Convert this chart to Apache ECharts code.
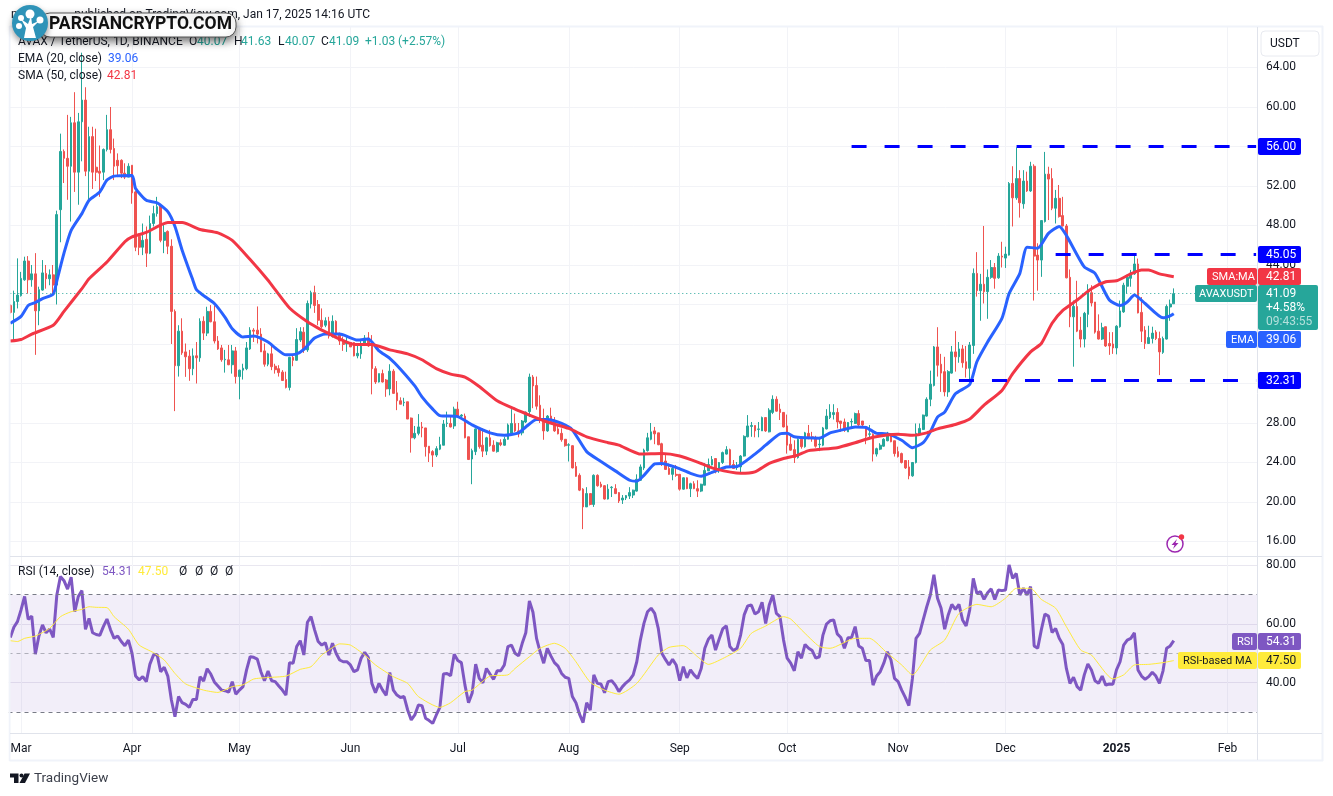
<!DOCTYPE html>
<html>
<head>
<meta charset="utf-8">
<title>AVAX / TetherUS</title>
<style>
html, body { margin: 0; padding: 0; background: #fff; }
#main { width: 1333px; height: 796px; }
</style>
<script src="https://cdn.jsdelivr.net/npm/echarts@6/dist/echarts.min.js"></script>
</head>
<body>
<div id="main"></div>
<script>
// one row per day from 2024-02-27: open, close, low, high
var candles = [
[39.9,39.2,39.1,40],[39.2,40.3,36.4,41.4],[40.3,40.95,39.6,44.67],[40.9,42.64,40.8,43.3],[42.5,44.4,42.4,44.84],
[44.4,42.5,41.1,44.9],[42.5,43.1,41.8,44],[43.1,39.36,34.9,45.2],[39.36,41.5,37.9,41.8],[41.46,43.2,41.4,44.5],
[43.15,42.6,41.6,44],[42.6,43,41.95,43.55],[43,41.97,41.1,44],[41.97,49.1,40,49.5],[49.6,55.5,46.3,57.3],
[55.5,54.8,52.3,55.7],[54.8,54,50.6,59.2],[54,58.4,48.4,59],[58.4,53.4,51.4,61.5],[53.4,58.5,50.1,59.4],
[58.5,60.7,54.5,65.5],[60.7,53.5,53,62],[53.5,57,50.6,58],[57,53.4,51.7,58],[53.9,53.4,52.5,57.8],
[53.5,53.3,50.9,56.1],[53.4,55.7,52.6,55.8],[55.7,57.7,55.5,59.2],[57.7,55.7,55.3,60],[55.8,54,52.6,56.8],
[54.6,54.05,52.9,55.3],[54.6,53.3,52.8,54.7],[53.3,52.9,52.7,54.3],[52.9,54,52.9,54.3],[54.1,51.3,50.2,54.1],
[51.4,45.8,45.4,51.5],[46.9,45.8,45,47.2],[45.8,46.5,45,48.2],[46.6,45.2,43.8,47.9],[45.2,48.2,45.1,49],
[48.2,49.2,47.9,50],[49.2,49.9,48.9,50.9],[50,46.5,46.3,50.1],[46.5,47.3,45.2,48.2],[47.4,45.9,45.1,47.5],
[45.9,39.3,36,46.6],[39.3,33.8,29.2,39.5],[33.8,37.3,32.7,37.9],[37.3,35.1,34.9,38.6],[35.2,34.7,32.67,36.05],
[34.77,33.5,32.27,35.4],[33.5,34.8,32.84,35.55],[34.8,34.6,32,36.2],[34.6,38.3,34.2,38.6],[38.3,37.1,36.4,38.8],
[37.1,39.3,36.8,39.77],[39.3,38.25,38.2,39.94],[38.25,36.3,36.05,39.9],[36.3,35.5,35.4,36.8],[35.6,34.4,34.2,35.9],
[34.4,34.45,33.1,35.4],[34.4,33.9,33.85,35.9],[33.9,35.3,33,35.9],[35.3,32.7,32,35.7],[32.7,33.35,30.4,33.4],
[33.35,33.55,32.4,34],[33.5,35.6,33.35,36.2],[35.5,37.4,35.4,37.7],[37.4,37.3,36.2,37.6],[37.4,37,36.05,39.8],
[37,35.2,35.2,37.6],[35.3,33.95,33.7,36.05],[33.95,35,33.75,35.1],[35,33.7,33.35,36.05],[33.75,33.4,33,34],
[33.5,33.1,32.7,33.85],[33.15,32.3,32.3,33.35],[32.4,31.6,31.5,33.2],[31.6,34.65,31.3,34.7],[34.65,34.35,33.75,34.9],
[34.35,36.45,34.3,37.6],[36.4,37.25,36.2,37.7],[37.2,35.4,35.1,37.7],[35.4,40.1,35.2,40.4],[40.05,41.2,39.6,41.4],
[41.2,39.9,39.15,41.9],[40,38.4,37.9,40.45],[38.4,37.75,37.6,39.6],[37.9,38.35,37.7,38.7],[38.3,36.8,36.55,38.75],
[36.75,38.3,36.65,38.9],[38.3,36.9,36.6,38.4],[37.05,36.3,35.9,37.15],[36.3,35.95,35.3,36.75],[36,36.05,35.2,36.8],
[36.15,35.7,35.7,36.2],[36.15,34.8,34.75,36.2],[34.8,35.05,34.55,36.05],[35,36.05,34.5,36.3],[36.05,36.6,36,36.9],
[36.6,35.8,35.7,37.2],[35.8,33.5,30.9,36.9],[33.5,32.15,31.95,33.75],[32.15,33,32.1,33],[33,32.15,32.1,33.4],
[32.35,31.45,30.65,32.45],[31.45,33.25,30.8,33.95],[33.25,31,30.95,33.45],[31.05,30.25,29.3,32.25],[30.25,29.9,29.9,30.6],
[30.05,30.1,29.7,30.55],[30.15,28.4,28.4,30.15],[28.5,26.5,25,28.55],[26.5,26.95,26.35,27.7],[26.95,27.6,26.75,28.9],
[27.6,27.5,26.55,28.1],[27.5,25.6,24.6,27.5],[25.65,24.95,24.05,25.65],[25.1,24.75,23.55,25.25],[24.75,25.4,24.55,25.65],
[25.35,25.8,25.25,26.6],[25.75,27.9,25.75,28.3],[27.95,28,27.6,29.15],[27.95,27.6,27.55,28.8],[27.7,29.4,27.4,29.65],
[29.4,28.7,28.6,30.15],[28.7,28.8,28.45,28.9],[28.7,26.5,26.45,28.95],[26.6,24.3,24.25,26.6],[24.35,25.2,21.8,25.4],
[25.1,27.4,24.75,27.45],[27.45,25.6,25.4,27.6],[25.75,25.15,24.55,27.45],[25.15,26.5,24.75,26.6],[26.5,25.7,25.6,27.3],
[25.75,25.15,25.1,26.25],[25.1,26,25,26.1],[26,25.8,25.65,26.35],[25.75,26.35,25.7,26.6],[26.35,27.8,26.3,27.95],
[26.9,27.95,26.85,29.4],[27.95,27.2,27.1,28.95],[27.2,26.9,26.55,28],[27,28.2,26.75,28.3],[28.1,29.1,28,29.15],
[29.15,32.65,28.6,33],[32.65,31.75,29.5,32.85],[31.8,29.7,29.35,32.7],[29.8,28.3,28,30.8],[28.35,27.2,26.3,29.45],
[27.2,28.7,27.1,28.8],[28.7,27.95,27.9,29.55],[28.1,27.2,27.1,28.6],[27.4,26.9,26.85,27.95],[26.95,26.3,26.1,27.45],
[26.35,25.7,25.6,26.35],[25.75,25.8,24.1,25.95],[25.7,23.45,23.4,25.75],[23.6,22.6,22.55,24.05],[22.7,21.2,21.1,22.9],
[21.3,19.5,17.25,21.4],[19.5,20.85,19.5,21.5],[20.85,19.75,19.65,20.85],[19.75,22.7,19.5,22.8],[22.7,21.65,21.55,22.8],
[21.8,21.55,21.45,22.05],[21.65,20.3,20.25,21.7],[20.3,21.3,20.25,21.8],[21.45,21.5,20.5,21.6],[21.35,20.85,20.8,21.8],
[20.95,20.1,19.9,21],[20.2,20.4,19.8,20.7],[20.4,20.65,20.2,20.7],[20.6,20.95,20.3,21.5],[20.7,21.2,20.4,21.25],
[21.1,22.3,21.05,22.8],[22.2,23.55,22.15,23.8],[23.45,25.25,23.25,25.4],[25.2,26.5,25.1,27],[26.35,27.1,26.25,28],
[27.2,26.9,25.85,27.6],[27,25.8,25.75,27],[25.9,24.05,23.65,26],[24.15,23.3,23.25,24.75],[23.4,22.8,22.75,23.9],
[22.8,23.4,22.2,23.55],[22.8,22.7,22.55,23.75],[22.8,21.3,21.15,22.8],[21.3,22.45,21.25,22.5],[22.45,21.35,21.3,22.5],
[21.35,21.85,20.5,21.95],[21.85,21.35,21.3,22.1],[21.35,21.1,20.5,22.2],[21.1,21.8,21,21.85],[21.7,23.2,21.7,23.95],
[23.15,23.8,23.15,24.4],[23.75,24.3,23.7,24.65],[24.4,23.05,22.9,24.4],[23.15,24,22.95,24.05],[24,25,23.85,25.1],
[24.85,25.3,24.8,25.65],[25.3,23.75,23.65,25.4],[23.8,23.4,23.35,24.25],[23.5,23.55,23.25,24.05],[23.55,24.65,22.9,24.75],
[24.65,26.65,24.6,26.75],[26.6,27.7,26.55,28.8],[27.65,27.75,26.6,28.1],[27.75,27.2,26.55,27.75],[27.35,27.4,26.55,28.1],
[27.2,28.55,27.2,28.65],[28.55,27.2,27.1,28.55],[27.1,29.3,27.05,29.5],[29.07,30.4,28.9,30.8],[30.4,29.2,29.15,30.7],
[29.4,29.07,28.3,29.95],[29.07,27.6,27.55,29.1],[27.7,25.75,24.9,28.85],[25.85,25.25,25.2,26.75],[25.3,24.5,23.95,26.25],
[24.5,26.35,24.4,26.45],[26.35,25.6,25.4,26.6],[25.6,27,25.5,27.1],[26.95,26.45,26.35,27.8],[26.6,26.45,26.1,27.1],
[26.45,25.65,25.5,26.7],[25.8,25.85,25.15,26.6],[25.75,27.5,25.65,27.6],[27.4,28.7,27.35,29.4],[28.55,29.1,28.4,29.9],
[28.85,29.05,28.35,29.9],[29.07,28.1,27.45,29.5],[28.2,27.95,27.1,28.2],[28.1,27.3,27.1,28.45],[27.1,28.05,27.1,28.1],
[28.1,28.15,27.55,28.45],[27.95,28.95,27.9,29.05],[28.95,27.8,27.7,29.3],[28.2,27.8,27.6,28.2],[27.6,26.65,25.85,27.7],
[26.85,26.9,26.35,27.8],[26.85,24.85,24.1,26.95],[24.85,25.4,24.6,25.5],[25.35,25.75,25.25,25.95],[25.65,26.35,25.6,26.45],
[26.2,26.95,26.15,27.1],[26.9,26.1,26.05,26.95],[26.2,24.9,24.6,26.2],[25.1,24.6,24.5,25.6],[24.9,24,23.9,25],
[24.2,23.45,23.35,24.25],[23.55,22.65,22.3,24.25],[22.65,24,22.55,24.05],[24,26.95,23.9,27.95],[26.9,27.45,26.8,27.95],
[27.35,28.8,27.3,28.85],[28.7,30.4,28.65,30.6],[30.4,31.93,29.7,33.3],[31.8,35.7,31.7,35.8],[35.7,33.85,32.7,37.7],
[33.95,33.05,31.15,35],[33.2,31.15,30.7,34.7],[31.15,33.2,30.65,33.35],[33.05,35.2,33,35.8],[35.2,34.7,33.2,37.3],
[34.7,35.5,34.1,36.2],[35.5,34.1,33.6,35.9],[34.2,33.5,32.6,35.8],[33.55,35.9,32.3,36.2],[35.85,43.15,35,43.65],
[43.15,41.4,40.8,45.3],[41.4,42.05,38.35,43.1],[42.05,41.3,40.1,47.95],[41.3,42.75,38.55,43.55],[42.75,43.75,42.6,44.5],
[43.75,42.65,41.6,44.2],[42.7,44.9,42.6,45.2],[44.9,44.8,43.75,46.35],[44.7,45.1,43.7,45.85],[45,52.25,44.95,52.4],
[52.25,50.8,47.9,54],[50.8,52.75,50.6,55.9],[52.75,50.3,48.8,53.6],[50.2,52.5,49.7,53.6],[52.5,51.5,51.4,53.45],
[51.5,54,51.4,54.45],[54,44.9,40.4,54.2],[45,44.5,41.4,46.2],[44.5,48.5,42.8,48.55],[48.4,53.2,48.3,55.45],
[53.2,52.7,48.55,53.95],[52.75,49.75,49.55,53.8],[49.75,50.75,48.2,51.6],[50.75,48.9,48.8,52.1],[49,47.95,47.9,50.9],
[47.95,42.7,42.65,48.15],[42.75,38.75,37.7,43.55],[38.75,39.8,33.7,40.4],[39.8,37.3,37.2,42.4],[37.4,36.5,35.65,38.75],
[36.5,39.1,35.65,39.25],[39,41.45,37.7,42.05],[41.2,40.15,39.8,41.95],[40.25,37.2,37.05,40.25],[37.3,36.5,36.45,39],
[36.5,37.65,36.4,38.15],[37.75,35.8,35.7,37.75],[36.05,35.8,34.9,37.2],[36,35.6,35,37.2],[35.6,37.8,34.95,37.9],
[37.75,39.35,37.65,40.4],[39.25,41.95,39.15,42.2],[41.85,42.75,41.1,43],[42.65,43.15,41.8,43.5],[43.1,44.1,43,45.15],
[44.1,39.15,39.1,44.65],[39.2,37.3,36.2,40.75],[37.4,36.05,35.5,37.8],[36.05,36.65,36,37.85],[36.55,37.1,36.05,37.75],
[37.2,36.55,36.4,37.4],[36.55,35.2,32.85,37.25],[35.15,36.55,35,36.75],[36.5,39.8,36.45,40],[39.75,40.05,38.35,40.5],
[40.07,41.09,40.07,41.63]
];

// day number (row in candles) and value
var emaDays = [0,3,5,7,9,12,13,15,17,20,22,25,27,29,34,35,38,41,44,46,48,51,52,54,57,60,62,65,68,72,74,77,80,82,85,88,92,97,100,103,106,109,113,115,118,120,125,129,134,138,142,144,147,150,154,157,161,165,169,173,175,177,180,182,186,190,193,196,200,203,208,211,215,217,219,222,226,229,233,236,239,242,245,249,252,255,257,259,261,264,268,270,273,277,279,282,284,287,290,293,295,300,303,307,310,312,314,317,322,324,325];
var emaValues = [38.1,38.8,39.9,40.2,40.6,41.05,42.4,45.2,47.5,49.2,50.55,51.4,52.6,53,53.05,51.75,50.55,50.3,49.4,47.9,45.5,42.46,41.5,40.9,40.1,38.7,37.55,36.7,36.8,36.2,35.6,34.9,35,35.45,36.6,37,37,36.4,36.5,35.3,34.55,33.45,31.75,30.65,29.4,28.75,28.65,27.8,27,26.75,27,27.6,28.35,28.35,27.95,27.3,25.1,24.1,23.15,22.2,22.1,22.7,23.85,23.9,23.5,22.9,22.6,23,23.55,23.6,24.85,25.75,26.9,26.95,26.6,26.5,26.45,27,27.35,27.6,27.55,26.95,26.9,26.25,25.5,26,27.1,28.6,29.1,30.95,31.9,34.2,36.2,38.6,41.1,43.15,45.8,45.7,47.2,47.9,47,43.8,43.15,40.45,39.9,40.25,40.95,40.1,38.65,38.85,39.06];
var smaDays = [0,3,6,12,15,20,22,27,32,34,38,44,48,53,58,62,67,72,74,78,83,87,89,92,96,101,106,111,115,119,123,127,131,136,141,145,150,156,161,167,170,173,176,182,187,193,197,204,208,212,216,220,223,231,236,241,248,252,256,259,264,268,272,277,280,285,288,291,294,298,302,306,309,313,316,318,321,325];
var smaValues = [36.3,36.45,37,37.9,39.3,41.6,42.6,44.3,46.35,46.85,47.3,48.3,48.3,47.6,47.25,46.5,44.55,42.46,41.5,39.65,38.25,37.4,37.05,36.5,35.95,35.95,35.4,35,34.4,33.5,32.95,32.65,31.7,30.25,29.4,28.8,28.1,27.45,26.6,26,25.75,25.25,24.85,24.9,24.65,23.9,23.35,22.9,23.05,23.9,24.4,24.75,25.2,25.5,26,26.55,26.85,26.75,27,27.4,27.85,28.4,29.8,31.3,33,35.2,36.05,38.1,39.4,40.45,41.6,42.3,42.4,43.1,43.5,43.5,43.1,42.81];

// RSI (14), one value per day, same rows as candles
var rsiValues = [
55.4,58.9,60.8,64.8,69.4,61.6,62.7,49.7,55.9,59.7,57,58.3,55.4,69.9,76.2,74.8,71.9,76,64.2,69.4,
71.4,58.2,61.9,57,56.4,56.1,59.1,61.7,58,55.1,55.9,54,52.6,54.5,50,42.2,40.9,42,40.3,46.3,
49.4,49.6,43.7,45.2,42.2,34,28.3,35.2,33.1,32.5,31.5,34.2,34.2,42,40.5,44.7,42.9,40.2,38.8,37.4,
37.2,36.7,40.3,36,37.4,38.6,44.3,48.8,48.6,48,43.7,40.6,43.9,40.6,40.3,38.8,37.4,35.7,46.8,46.6,
52.3,54.3,49.4,60.6,62.5,58,54,52.8,53.6,49.4,53.4,50,47.7,47.1,47.1,46,43.7,44.3,48.3,50.3,
48.6,39.7,36.5,39.7,37.4,35.6,43.4,37.4,35.7,34.9,35.2,30.6,27.2,28.9,32.3,32.1,27.8,27,26,28.9,
31.5,42.9,43.1,42.3,49.7,47.5,46.8,39.1,33.1,36.3,46.3,41.4,39.9,44.8,42.9,41.1,44,44,46,52.3,
52.8,50,49.1,53.4,57,67.9,64,55.1,50.5,46.6,51.7,49.1,46.8,45.6,43.1,41.8,41.4,35.2,33.1,29.2,
26.3,33.1,30.6,42.6,39.7,39.5,36.5,40.3,40.6,39.1,36.9,38.6,39.9,40.9,42.6,47.1,54.5,60.2,64.2,65.4,
63.6,58.5,50,47.9,46,47.9,46,40.6,45.4,41.6,44.3,42.6,41.4,44.8,51.7,54.8,56.2,51.1,54.8,58.3,
59.4,52.3,50.9,51.7,56.2,63.1,66.2,66.5,63.4,64.2,67.4,60.2,66.5,69.9,63.6,62.5,54.5,48.3,46.6,44,
50.5,48.3,53,51.7,50.9,48.3,48.8,56.2,60,61.1,61.4,56.6,55.4,51.7,55.3,55.4,59.1,52.5,51.7,47.5,
47.5,39.1,42.2,43.7,46.6,50.5,47.7,41.4,40.3,37.4,34.9,32.1,41.4,55.1,56.8,61.4,65.9,69.9,76.8,68.8,
65.4,58.2,63.1,66.7,65,66.7,61.4,59.3,64.8,75.6,70.5,71.1,68.4,70.7,72,68.4,71.6,71.4,71.6,80.2,
75.6,77.3,69.9,72.2,69.9,72.8,52.5,51.7,58,63.4,62.7,57.1,58.5,55.1,53,44.8,39.7,41.8,38.6,37.4,
42.6,46.3,44.3,40.6,39.7,42.2,39.1,39.5,39.4,44.3,47.1,52.8,54.5,55.1,57,44.3,42.2,41.1,42,43.5,
42.2,39.7,44,51.7,52.5,54.31
];
var rsiMaDays = [0,2,4,7,11,14,17,20,22,24,27,29,33,36,40,43,46,49,54,58,62,65,68,72,77,81,84,87,89,92,95,99,102,107,111,114,120,123,127,129,134,139,141,145,148,152,155,158,162,166,170,175,181,184,188,192,195,200,204,207,211,216,218,221,226,229,236,240,245,249,252,257,261,265,270,274,278,281,285,288,292,295,299,302,308,311,314,318,322,325];
var rsiMaValues = [54.3,54,55.1,55.9,58.5,62.5,64.2,65,65.9,65.7,65.6,62.5,58.2,52.8,50.2,47.7,43.1,39.5,37.4,36.6,38.6,39.2,41.2,41.7,42.2,44.5,45.4,49.4,51.1,53.2,52.8,49.4,46,42,39.7,35.2,31.5,33.1,36.9,37.4,42.2,42.6,44.8,48.8,51.7,53.4,51.7,47.1,40.1,37.4,36,39.7,49.4,52,52.6,48.8,46.2,48.8,51.7,56.8,59.3,62.5,61.7,58,52.3,51.7,55.1,55.1,50,46,42.6,51.1,54.5,63.6,66.7,65.9,68.8,72.2,72.2,68.4,65.4,59.1,51.1,49.4,41.2,42.6,46,46.2,46.8,47.5];

var priceTicks = [16,20,24,28,32,36,40,44,48,52,56,60,64];
var rsiTicks = [40,60,80];
var monthLabels = {
    '2024-03-01':'Mar','2024-04-01':'Apr','2024-05-01':'May','2024-06-01':'Jun','2024-07-01':'Jul','2024-08-01':'Aug',
    '2024-09-01':'Sep','2024-10-01':'Oct','2024-11-01':'Nov','2024-12-01':'Dec','2025-01-01':'2025','2025-02-01':'Feb'
};
var levels = [56, 45.05, 32.31];
var levelStartDays = [235, 292, 265];
var lastPrice = 41.09;

// days on the axis, empty slots run on after the last candle
var dates = [];
for (var d = 0; d < 349; d++) {
    dates.push(new Date(Date.UTC(2024, 1, 27 + d)).toISOString().slice(0, 10));
}

function pairs(days, values) {
    return days.map(function (day, i) { return [day, values[i]]; });
}
function isMonthStart(index) {
    return monthLabels[dates[index]] !== undefined;
}

var FONT = 'Roboto, sans-serif';
var GRID_LINE = '#f2f3f7';
var UP = '#26a69a', DOWN = '#ef5350';
var EMA_COLOR = '#2962ff', SMA_COLOR = '#f23645', RSI_COLOR = '#7e57c2', MA_COLOR = '#ffeb3b';

var myChart = echarts.init(document.getElementById('main'));

var dayAxis = {
    type: 'category',
    data: dates,
    boundaryGap: true,
    axisLine: { show: false },
    axisTick: { show: false },
    splitLine: { show: true, alignWithLabel: true, interval: isMonthStart, lineStyle: { color: GRID_LINE, width: 1 } }
};

var option = {
    animation: false,
    backgroundColor: '#fff',
    textStyle: { fontFamily: FONT },
    grid: [
        { left: 8.5, top: 27, width: 1249.4, height: 529 },
        { left: 8.5, top: 557, width: 1249.4, height: 176 }
    ],
    xAxis: [
        Object.assign({}, dayAxis, { gridIndex: 0, axisLabel: { show: false } }),
        Object.assign({}, dayAxis, {
            gridIndex: 1,
            axisLabel: {
                show: true,
                interval: isMonthStart,
                margin: 10,
                color: '#131722',
                fontSize: 12,
                fontFamily: FONT,
                formatter: function (value) {
                    var name = monthLabels[value];
                    return name === '2025' ? '{year|2025}' : name;
                },
                rich: { year: { fontWeight: 'bold', fontSize: 12, color: '#131722', fontFamily: FONT } }
            }
        })
    ],
    yAxis: [
        {
            type: 'value', gridIndex: 0, position: 'right', min: 14.53, max: 68.1,
            axisLine: { show: false },
            axisTick: { show: false, customValues: priceTicks },
            axisLabel: {
                customValues: priceTicks, color: '#131722', fontSize: 12, fontFamily: FONT, padding: [3, 0, 0, 0],
                formatter: function (v) { return v.toFixed(2); }
            },
            splitLine: { show: true, customValues: priceTicks, lineStyle: { color: GRID_LINE, width: 1 } }
        },
        {
            type: 'value', gridIndex: 1, position: 'right', min: 22.74, max: 82.9,
            axisLine: { show: false },
            axisTick: { show: false, customValues: rsiTicks },
            axisLabel: {
                customValues: rsiTicks, color: '#131722', fontSize: 12, fontFamily: FONT, padding: [3, 0, 0, 0],
                formatter: function (v) { return v.toFixed(2); }
            },
            splitLine: { show: true, customValues: rsiTicks, lineStyle: { color: '#e9e7f0', width: 1 } }
        }
    ],
    series: [
        {
            name: 'AVAXUSDT',
            type: 'candlestick',
            xAxisIndex: 0, yAxisIndex: 0,
            barWidth: 2.2,
            data: candles,
            itemStyle: { color: UP, color0: DOWN, borderColor: UP, borderColor0: DOWN, borderColorDoji: UP, borderWidth: 1 },
            markLine: {
                silent: true, symbol: 'none', animation: false, label: { show: false },
                lineStyle: { color: UP, type: [1, 3], width: 1 },
                data: [[{ xAxis: 0, yAxis: lastPrice }, { xAxis: 331, yAxis: lastPrice }]]
            }
        },
        {
            name: 'EMA (20, close)', type: 'line', xAxisIndex: 0, yAxisIndex: 0, z: 3,
            data: pairs(emaDays, emaValues), showSymbol: false, smooth: 0.2,
            lineStyle: { color: EMA_COLOR, width: 3 }
        },
        {
            name: 'SMA (50, close)', type: 'line', xAxisIndex: 0, yAxisIndex: 0, z: 3,
            data: pairs(smaDays, smaValues), showSymbol: false, smooth: 0.2,
            lineStyle: { color: SMA_COLOR, width: 3 }
        },
        {
            name: 'levels', type: 'line', xAxisIndex: 0, yAxisIndex: 0, z: 4, data: [],
            markLine: {
                silent: true, symbol: 'none', animation: false, label: { show: false },
                lineStyle: { color: '#0000ff', type: [15, 18], width: 3 },
                data: levels.map(function (level, i) {
                    return [{ xAxis: levelStartDays[i], yAxis: level }, { xAxis: 348, yAxis: level }];
                })
            }
        },
        {
            name: 'RSI', type: 'line', xAxisIndex: 1, yAxisIndex: 1, z: 3,
            data: rsiValues, showSymbol: false,
            lineStyle: { color: RSI_COLOR, width: 3 },
            markArea: {
                silent: true,
                itemStyle: { color: 'rgba(126,87,194,0.1)' },
                data: [[{ yAxis: 70 }, { yAxis: 30 }]]
            },
            markLine: {
                silent: true, symbol: 'none', animation: false, label: { show: false },
                lineStyle: { color: '#787b86', type: [4, 4], width: 1 },
                data: [
                    { yAxis: 70 },
                    { yAxis: 50, lineStyle: { color: 'rgba(120,123,134,0.55)' } },
                    { yAxis: 30 }
                ]
            }
        },
        {
            name: 'RSI-based MA', type: 'line', xAxisIndex: 1, yAxisIndex: 1, z: 4,
            data: pairs(rsiMaDays, rsiMaValues), showSymbol: false, smooth: 0.2,
            lineStyle: { color: MA_COLOR, width: 1 }
        }
    ]
};
myChart.setOption(option);

// texts, tags and frame around the panes
function txt(x, y, text, fill, extra, z) {
    return {
        type: 'text', z: z || 20,
        style: Object.assign({
            x: x, y: y + 1, text: text, fill: fill || '#131722',
            font: '12px ' + FONT, textVerticalAlign: 'middle'
        }, extra || {})
    };
}
function box(x, y, w, h, fill, r) {
    return { type: 'rect', z: 19, shape: { x: x, y: y, width: w, height: h, r: r || 0 }, style: { fill: fill } };
}
function line(x1, y1, x2, y2, color, width) {
    return { type: 'line', z: 18, shape: { x1: x1, y1: y1, x2: x2, y2: y2 }, style: { stroke: color, lineWidth: width || 1 } };
}
// a name block left of the axis and a value block on it
function tag(name, nameX, value, top, fill, textFill) {
    var out = [];
    if (name) {
        out.push(box(nameX, top, 1257 - nameX, 17, fill, 2));
        out.push(txt(nameX + 5, top + 8, name, textFill, { font: '11px ' + FONT }));
    }
    out.push(box(1258, top, 43, 17, fill, 2));
    out.push(txt(1266, top + 8, value, textFill));
    return out;
}

var tealText = '#26a69a';
var graphics = [
    // frame and pane borders
    box(0, 0, 8.5, 796, '#fff'),
    line(9.5, 26, 9.5, 761, '#f0f3fa', 2),
    line(9.5, 26.5, 1323, 26.5, '#f0f3fa', 2),
    line(1322.5, 26, 1322.5, 761, '#f0f3fa', 2),
    line(9.5, 760.5, 1323, 760.5, '#f0f3fa', 2),
    line(10, 556.5, 1322, 556.5, '#e0e3eb', 1),
    line(10, 733.5, 1322, 733.5, '#e0e3eb', 1),
    line(1257.5, 27, 1257.5, 760, '#e0e3eb', 1),

    // top text
    txt(370, 14, 'published on TradingView.com, Jan 17, 2025 14:16 UTC', '#131722', { textAlign: 'right' }),
    txt(11, 14, 'm'),

    // legend of the price pane
    txt(18, 41, 'AVAX / TetherUS, 1D, BINANCE'),
    txt(189, 41, 'O'), txt(197, 41, '40.07', tealText),
    txt(234, 41, 'H'), txt(241, 41, '41.63', tealText),
    txt(278, 41, 'L'), txt(285, 41, '40.07', tealText),
    txt(321, 41, 'C'), txt(329, 41, '41.09', tealText),
    txt(365, 41, '+1.03', tealText), txt(398, 41, '(+2.57%)', tealText),
    txt(18, 58, 'EMA (20, close)'), txt(108, 58, '39.06', EMA_COLOR),
    txt(18, 75, 'SMA (50, close)'), txt(107, 75, '42.81', SMA_COLOR),

    // legend of the RSI pane
    txt(18, 571, 'RSI (14, close)'), txt(102, 571, '54.31', RSI_COLOR), txt(138, 571, '47.50', MA_COLOR),
    txt(179, 571, 'Ø'), txt(195, 571, 'Ø'), txt(210, 571, 'Ø'), txt(225, 571, 'Ø'),

    // currency button
    { type: 'rect', z: 19, shape: { x: 1261, y: 31, width: 58, height: 25, r: 4 }, style: { fill: '#fff', stroke: '#e8eaf0', lineWidth: 1 } },
    txt(1270, 43, 'USDT'),

    // last price block
    box(1195, 285, 62, 17, UP, 2),
    txt(1199, 293, 'AVAXUSDT', '#fff', { font: '11px ' + FONT }),
    box(1258, 285, 60, 45, UP, 2),
    txt(1266, 293, '41.09', '#fff'),
    txt(1266, 307, '+4.58%', '#fff'),
    txt(1266, 321, '09:43:55', 'rgba(255,255,255,0.65)'),

    // lightning icon
    { type: 'circle', z: 19, shape: { cx: 1175, cy: 544, r: 8 }, style: { fill: '#fff', stroke: '#9c27b0', lineWidth: 1.5 } },
    { type: 'polygon', z: 20, shape: { points: [[1177, 539], [1171.5, 545], [1174.5, 545], [1173, 549], [1178.5, 543], [1175.5, 543]] }, style: { fill: '#9c27b0' } },
    { type: 'circle', z: 21, shape: { cx: 1181.5, cy: 537, r: 2.7 }, style: { fill: '#f23645' } },

    // TradingView mark
    { type: 'polygon', z: 20, shape: { points: [[10, 773.5], [18.5, 773.5], [18.5, 783], [14, 783], [14, 777.5], [10, 777.5]] }, style: { fill: '#131722' } },
    { type: 'circle', z: 20, shape: { cx: 21.5, cy: 775.5, r: 2 }, style: { fill: '#131722' } },
    { type: 'polygon', z: 20, shape: { points: [[19.5, 783], [24.5, 773.5], [30, 773.5], [25, 783]] }, style: { fill: '#131722' } },
    txt(34, 778, 'TradingView', '#3b3f4a', { font: '13.5px ' + FONT }),

    // watermark
    {
        type: 'rect', z: 30, shape: { x: 40, y: 13, width: 196, height: 24, r: 10 },
        style: { fill: '#fff', stroke: '#555', lineWidth: 1, shadowBlur: 9, shadowOffsetY: 4, shadowColor: 'rgba(0,0,0,0.55)' }
    },
    txt(49, 24, 'PARSIANCRYPTO.COM', '#111', { font: 'bold 17.5px ' + FONT }, 31),
    { type: 'circle', z: 31, shape: { cx: 30, cy: 23, r: 18 }, style: { fill: '#2e93b8', shadowBlur: 6, shadowOffsetY: 3, shadowColor: 'rgba(0,0,0,0.4)' } },
    { type: 'polygon', z: 32, shape: { points: [[24, 38], [36, 38], [33, 27], [39, 21], [32, 24], [31, 16], [28, 24], [21, 19], [26, 28]] }, style: { fill: '#fff' } },
    { type: 'circle', z: 32, shape: { cx: 30, cy: 14, r: 4.5 }, style: { fill: '#fff' } },
    { type: 'circle', z: 32, shape: { cx: 21, cy: 18, r: 3 }, style: { fill: '#fff' } },
    { type: 'circle', z: 32, shape: { cx: 19, cy: 26, r: 3 }, style: { fill: '#fff' } },
    { type: 'circle', z: 32, shape: { cx: 40, cy: 20, r: 3.5 }, style: { fill: '#fff' } }
];

graphics = graphics.concat(
    tag('', 0, '56.00', 138, '#0000ff', '#fff'),
    tag('', 0, '45.05', 246, '#0000ff', '#fff'),
    tag('', 0, '32.31', 372, '#0000ff', '#fff'),
    tag('SMA:MA', 1207, '42.81', 268, SMA_COLOR, '#fff'),
    tag('EMA', 1226, '39.06', 331, EMA_COLOR, '#fff'),
    tag('RSI', 1232, '54.31', 633, RSI_COLOR, '#fff'),
    tag('RSI-based MA', 1178, '47.50', 652, MA_COLOR, '#131722')
);

myChart.setOption({ graphic: { elements: graphics } });

window.onresize = function () {
    myChart.resize();
};
</script>
</body>
</html>
